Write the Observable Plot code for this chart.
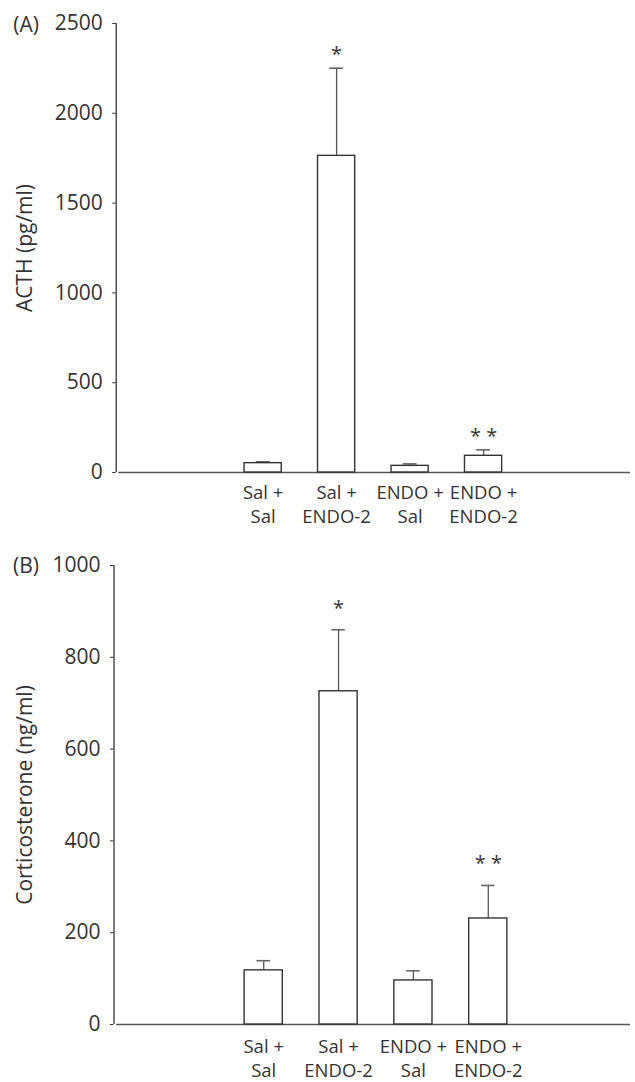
<!DOCTYPE html>
<html>
<head>
<meta charset="utf-8">
<script src="https://cdn.jsdelivr.net/npm/d3@7"></script>
<script src="https://cdn.jsdelivr.net/npm/@observablehq/plot@0.6"></script>
<style>
  html, body { margin: 0; padding: 0; background: #fff; }
  #chart { width: 635px; }
  #chart svg { display: block; }
</style>
</head>
<body>
<div id="chart"></div>
<script>
// Data
const categories = ["Sal +\nSal", "Sal +\nENDO-2", "ENDO +\nSal", "ENDO +\nENDO-2"];
const acthMean = [52, 1763, 37, 93];
const acthErr  = [60, 2251, 48, 126];
const acthSig  = ["", "*", "", "* *"];
const acthTicks = [0, 500, 1000, 1500, 2000, 2500];
const cortMean = [118, 726, 96, 231];
const cortErr  = [139, 860, 117, 303];
const cortSig  = ["", "*", "", "* *"];
const cortTicks = [0, 200, 400, 600, 800, 1000];

const FONT = "Open Sans";
const TEXT = "#333";

function panel(o) {
  const data = categories.map((c, i) => ({
    i, label: c, mean: o.means[i], err: o.errs[i], sig: o.sigs[i]
  }));
  const x0 = o.xDomain[0];
  const yMax = o.yTicks[o.yTicks.length - 1];
  return Plot.plot({
    width: 635,
    height: o.height,
    marginTop: o.marginTop,
    marginBottom: o.marginBottom,
    marginLeft: o.marginLeft,
    marginRight: 5,
    style: {fontFamily: FONT, fontSize: "21px", color: TEXT, background: "#fff", overflow: "visible"},
    x: {type: "linear", domain: o.xDomain, axis: null},
    y: {domain: [0, yMax], ticks: o.yTicks, tickFormat: d => String(d), tickSize: 3.5, tickPadding: 10, label: null},
    marks: [
      // y axis line
      Plot.ruleX([x0], {y1: 0, y2: yMax, stroke: "#333", strokeWidth: 1.3}),
      // baseline
      Plot.ruleY([0], {x1: x0 + 0.035, x2: o.xDomain[1], stroke: "#555", strokeWidth: 1.3}),
      // error stems
      Plot.ruleX(data, {x: "i", y1: "mean", y2: "err", stroke: "#555", strokeWidth: 1.3}),
      // error caps
      Plot.ruleY(data, {y: "err", x1: d => d.i - o.capHalf, x2: d => d.i + o.capHalf, stroke: "#666", strokeWidth: 1.6}),
      // bars
      Plot.rectY(data, {x1: d => d.i - o.barHalf, x2: d => d.i + o.barHalf, y1: 0, y2: "mean", fill: "#fff", stroke: "#333", strokeWidth: 1.4}),
      // significance
      Plot.text(data, {x: "i", y: "err", text: "sig", lineAnchor: "bottom", dy: o.starDy, fontSize: 20, fill: TEXT}),
      // category labels
      Plot.text(data, {x: "i", y: 0, text: "label", lineAnchor: "top", dy: o.labelPad, lineHeight: o.lineHeight, fontSize: 18.5, fill: TEXT}),
      // y label
      Plot.text([o.yLabel], {frameAnchor: "left", rotate: -90, dx: o.yLabelDx, textAnchor: "middle", lineAnchor: "middle", fontSize: 21, fill: TEXT}),
      // panel tag
      Plot.text([o.tag], {frameAnchor: "top-left", dx: o.tagDx, dy: o.tagDy, textAnchor: "start", lineAnchor: "middle", fontSize: 21, fill: TEXT})
    ]
  });
}

const chart = document.getElementById("chart");
chart.append(panel({
  means: acthMean, errs: acthErr, sigs: acthSig, yTicks: acthTicks,
  yLabel: "ACTH (pg/ml)", tag: "(A)",
  xDomain: [-2, 5], height: 540, marginTop: 23, marginBottom: 68, marginLeft: 115.7,
  barHalf: 0.253, capHalf: 0.095, starDy: -7, labelPad: 10, lineHeight: 1.28,
  yLabelDx: -91, tagDx: -103, tagDy: 2
}));
chart.append(panel({
  means: cortMean, errs: cortErr, sigs: cortSig, yTicks: cortTicks,
  yLabel: "Corticosterone (ng/ml)", tag: "(B)",
  xDomain: [-2, 4.9], height: 542, marginTop: 25, marginBottom: 58, marginLeft: 113.5,
  barHalf: 0.255, capHalf: 0.09, starDy: -15, labelPad: 11, lineHeight: 1.32,
  yLabelDx: -89, tagDx: -101, tagDy: 1
}));
</script>
</body>
</html>
